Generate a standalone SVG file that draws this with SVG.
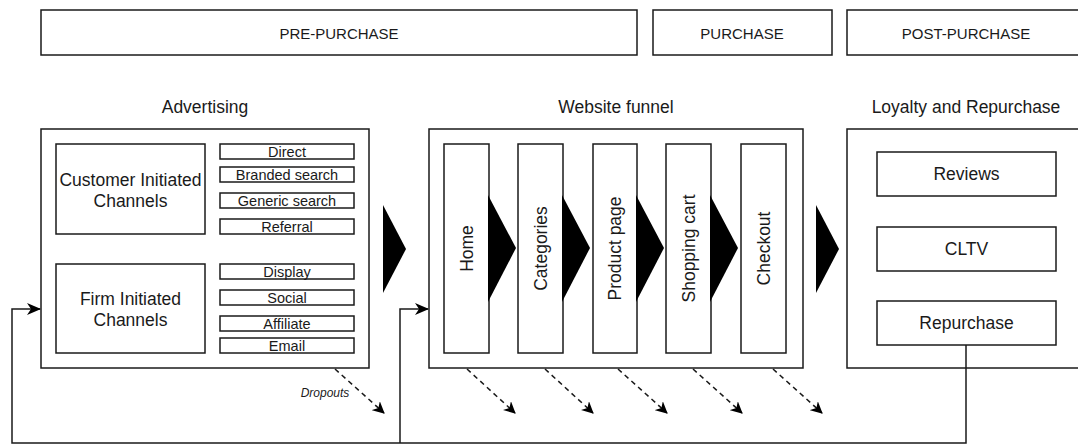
<svg xmlns="http://www.w3.org/2000/svg" width="1078" height="446" viewBox="0 0 1078 446">
  <style>
    .box { fill: #fff; stroke: #1a1a1a; stroke-width: 1.5; }
    .t { font-family: "Liberation Sans", Arial, sans-serif; fill: #1a1a1a; text-anchor: middle; dominant-baseline: central; }
    .t15 { font-size: 17.5px; }
    .t13 { font-size: 14.5px; }
    .t14 { font-size: 15px; }
    .chev { fill: #000; }
    .loop { fill: none; stroke: #1a1a1a; stroke-width: 1.5; }
    .drop { fill: none; stroke: #1a1a1a; stroke-width: 1.5; stroke-dasharray: 5 4; }
  </style>
  <defs>
    <marker id="arr" viewBox="0 0 12 12" refX="11" refY="6" markerWidth="12" markerHeight="12" markerUnits="userSpaceOnUse" orient="auto">
      <path d="M0,0 L12,6 L0,12 L3.5,6 Z" fill="#000"/>
    </marker>
    <marker id="arrBig" viewBox="0 0 14 12" refX="13" refY="6" markerWidth="14" markerHeight="12" markerUnits="userSpaceOnUse" orient="auto">
      <path d="M0,0 L14,6 L0,12 L4,6 Z" fill="#000"/>
    </marker>
  </defs>

  <!-- phase headers -->
  <g id="pre-purchase">
    <rect class="box" x="41" y="10" width="596" height="45"/>
    <text class="t t14" x="339" y="33">PRE-PURCHASE</text>
  </g>
  <g id="purchase">
    <rect class="box" x="653" y="10" width="179" height="45"/>
    <text class="t t14" x="742" y="33">PURCHASE</text>
  </g>
  <g id="post-purchase">
    <rect class="box" x="847" y="10" width="240" height="45"/>
    <text class="t t14" x="966" y="33">POST-PURCHASE</text>
  </g>

  <!-- advertising -->
  <g id="advertising">
    <text class="t t15" x="205" y="107">Advertising</text>
    <rect class="box" x="41" y="129" width="328" height="239"/>
    <rect class="box" x="56" y="144" width="149" height="90"/>
    <text class="t t15" x="130.5" y="180">Customer Initiated</text>
    <text class="t t15" x="130.5" y="201">Channels</text>
    <rect class="box" x="56" y="264" width="149" height="89"/>
    <text class="t t15" x="130.5" y="299">Firm Initiated</text>
    <text class="t t15" x="130.5" y="320">Channels</text>
  </g>
  <g id="channels">
    <rect class="box" x="220" y="144" width="134" height="15"/>
    <text class="t t13" x="287" y="152">Direct</text>
    <rect class="box" x="220" y="167" width="134" height="15"/>
    <text class="t t13" x="287" y="175">Branded search</text>
    <rect class="box" x="220" y="193" width="134" height="15"/>
    <text class="t t13" x="287" y="201">Generic search</text>
    <rect class="box" x="220" y="219" width="134" height="15"/>
    <text class="t t13" x="287" y="227">Referral</text>
    <rect class="box" x="220" y="264" width="134" height="15"/>
    <text class="t t13" x="287" y="272">Display</text>
    <rect class="box" x="220" y="290" width="134" height="15"/>
    <text class="t t13" x="287" y="298">Social</text>
    <rect class="box" x="220" y="316" width="134" height="15"/>
    <text class="t t13" x="287" y="324">Affiliate</text>
    <rect class="box" x="220" y="338" width="134" height="15"/>
    <text class="t t13" x="287" y="346">Email</text>
  </g>

  <!-- stage chevrons -->
  <polygon id="chevron-1" class="chev" points="383,205 406,249 383,293"/>
  <polygon id="chevron-2" class="chev" points="816,205 839,249 816,293"/>

  <!-- website funnel -->
  <g id="website-funnel">
    <text class="t t15" x="616" y="107">Website funnel</text>
    <rect class="box" x="429" y="129" width="374" height="239"/>
  </g>
  <g id="home">
    <rect class="box" x="444" y="144" width="45" height="209"/>
    <text class="t t15" transform="translate(466.5,248.5) rotate(-90)">Home</text>
    <polygon class="chev" points="488,195 516,248 488,302"/>
  </g>
  <g id="categories">
    <rect class="box" x="518" y="144" width="45" height="209"/>
    <text class="t t15" transform="translate(540.5,248.5) rotate(-90)">Categories</text>
    <polygon class="chev" points="562,195 590,248 562,302"/>
  </g>
  <g id="product-page">
    <rect class="box" x="593" y="144" width="44" height="209"/>
    <text class="t t15" transform="translate(615,248.5) rotate(-90)">Product page</text>
    <polygon class="chev" points="636,195 664,248 636,302"/>
  </g>
  <g id="shopping-cart">
    <rect class="box" x="666" y="144" width="45" height="209"/>
    <text class="t t15" transform="translate(688.5,248.5) rotate(-90)">Shopping cart</text>
    <polygon class="chev" points="710,195 738,248 710,302"/>
  </g>
  <g id="checkout">
    <rect class="box" x="741" y="144" width="45" height="209"/>
    <text class="t t15" transform="translate(763.5,248.5) rotate(-90)">Checkout</text>
  </g>

  <!-- loyalty -->
  <g id="loyalty">
    <text class="t t15" x="966" y="107">Loyalty and Repurchase</text>
    <rect class="box" x="847" y="129" width="240" height="239"/>
  </g>
  <g id="reviews">
    <rect class="box" x="877" y="152" width="179" height="44"/>
    <text class="t t15" x="966.5" y="174">Reviews</text>
  </g>
  <g id="cltv">
    <rect class="box" x="877" y="227" width="179" height="44"/>
    <text class="t t15" x="966.5" y="249">CLTV</text>
  </g>
  <g id="repurchase">
    <rect class="box" x="877" y="301" width="179" height="44"/>
    <text class="t t15" x="966.5" y="323">Repurchase</text>
  </g>

  <!-- connectors -->
  <g id="connectors">
    <polyline class="loop" points="966,345 966,443 12,443 12,309 40,309" marker-end="url(#arrBig)"/>
    <polyline class="loop" points="400,443 400,309 428,309" marker-end="url(#arrBig)"/>
    <line class="drop" x1="335" y1="369" x2="384" y2="413" marker-end="url(#arr)"/>
    <line class="drop" x1="467" y1="369" x2="515" y2="413" marker-end="url(#arr)"/>
    <line class="drop" x1="545" y1="369" x2="593" y2="413" marker-end="url(#arr)"/>
    <line class="drop" x1="618" y1="369" x2="667" y2="413" marker-end="url(#arr)"/>
    <line class="drop" x1="693" y1="369" x2="742" y2="413" marker-end="url(#arr)"/>
    <line class="drop" x1="773" y1="369" x2="822" y2="413" marker-end="url(#arr)"/>
    <text class="t" x="325" y="393" font-size="12" font-style="italic">Dropouts</text>
  </g>
</svg>
